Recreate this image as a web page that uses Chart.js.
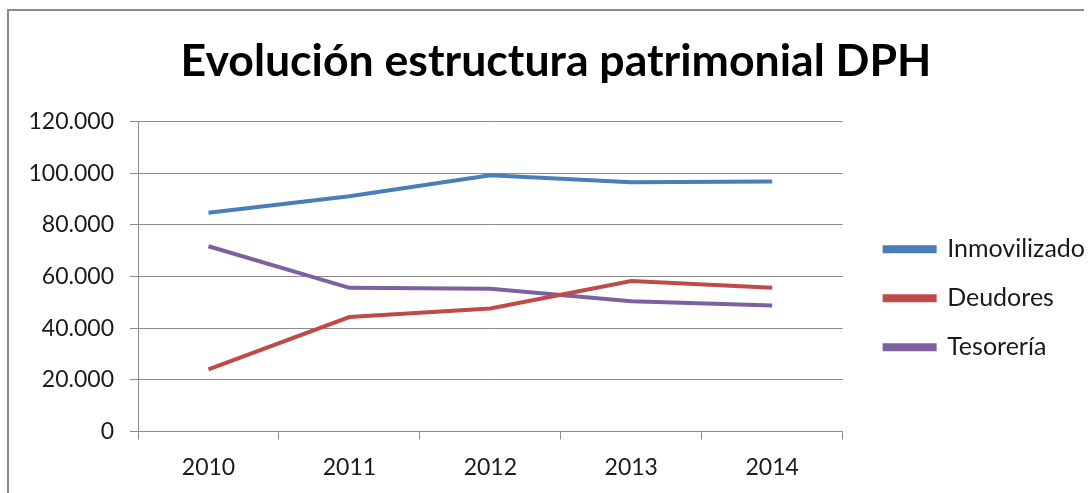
<!DOCTYPE html>
<html>
<head>
<meta charset="utf-8">
<script src="https://cdn.jsdelivr.net/npm/chart.js@4.4.0/dist/chart.umd.min.js"></script>
<style>
  body { margin: 0; background: #fff; overflow: hidden; }
  #wrap {
    position: absolute; left: 7px; top: 9px;
    width: 1075px; height: 484px;
    border-left: 2px solid #8a8a8a; border-top: 2px solid #8a8a8a;
  }
</style>
</head>
<body>
<div id="wrap"><canvas id="myChart" width="1083" height="482"></canvas></div>
<script>
const years = ["2010", "2011", "2012", "2013", "2014"];
const inmovilizado = [84700, 91100, 99200, 96500, 96800];
const deudores = [24000, 44300, 47600, 58200, 55600];
const tesoreria = [71700, 55600, 55200, 50400, 48800];

const FONT = "Lato, 'Open Sans', sans-serif";
const GRID = "#8c8c8c";

function line(label, data, color) {
  return {
    label: label,
    data: data,
    borderColor: color,
    backgroundColor: color,
    borderWidth: 4,
    pointRadius: 0,
    tension: 0,
  };
}

// nudge legend (gap after the plot) and title, like the original
const nudge = {
  id: "nudge",
  afterLayout(chart) {
    chart.legend.left += 18;
    chart.legend.right += 18;
    chart.titleBlock.left += 19;
  },
};

const ctx = document.getElementById("myChart");
const myChart = new Chart(ctx, {
  type: "line",
  data: {
    labels: years,
    datasets: [
      line("Inmovilizado", inmovilizado, "#4a7ebb"),
      line("Deudores", deudores, "#be4b48"),
      line("Tesorería", tesoreria, "#7d60a0"),
    ],
  },
  plugins: [nudge],
  options: {
    responsive: false,
    animation: false,
    layout: { padding: { left: 7, right: 15, bottom: -2 } },
    plugins: {
      title: {
        display: true,
        text: "Evolución estructura patrimonial DPH",
        color: "#000",
        font: { family: FONT, size: 44.6, weight: "bold" },
        padding: { top: 24, bottom: 33 },
      },
      legend: {
        position: "right",
        title: { display: true, text: " ", font: { size: 12 }, padding: 38 },
        labels: {
          color: "#1a1a1a",
          font: { family: FONT, size: 25 },
          boxWidth: 50,
          boxHeight: 4,
          padding: 24,
        },
      },
      tooltip: { enabled: false },
    },
    scales: {
      x: {
        offset: true,
        grid: {
          offset: true,
          drawOnChartArea: false,
          drawTicks: true,
          tickLength: 8,
          color: GRID,
        },
        border: { color: GRID, width: 1 },
        ticks: { color: "#1a1a1a", font: { family: FONT, size: 23 }, padding: 14 },
      },
      y: {
        min: 0,
        max: 120000,
        afterFit: (scale) => { scale.width = 122; },
        grid: { color: GRID, tickLength: 8 },
        border: { color: GRID, width: 1 },
        ticks: {
          stepSize: 20000,
          color: "#1a1a1a",
          font: { family: FONT, size: 23 },
          padding: 16,
          callback: (v) => v === 0 ? "0" : v.toLocaleString("de-DE"),
        },
      },
    },
  },
});
</script>
</body>
</html>
